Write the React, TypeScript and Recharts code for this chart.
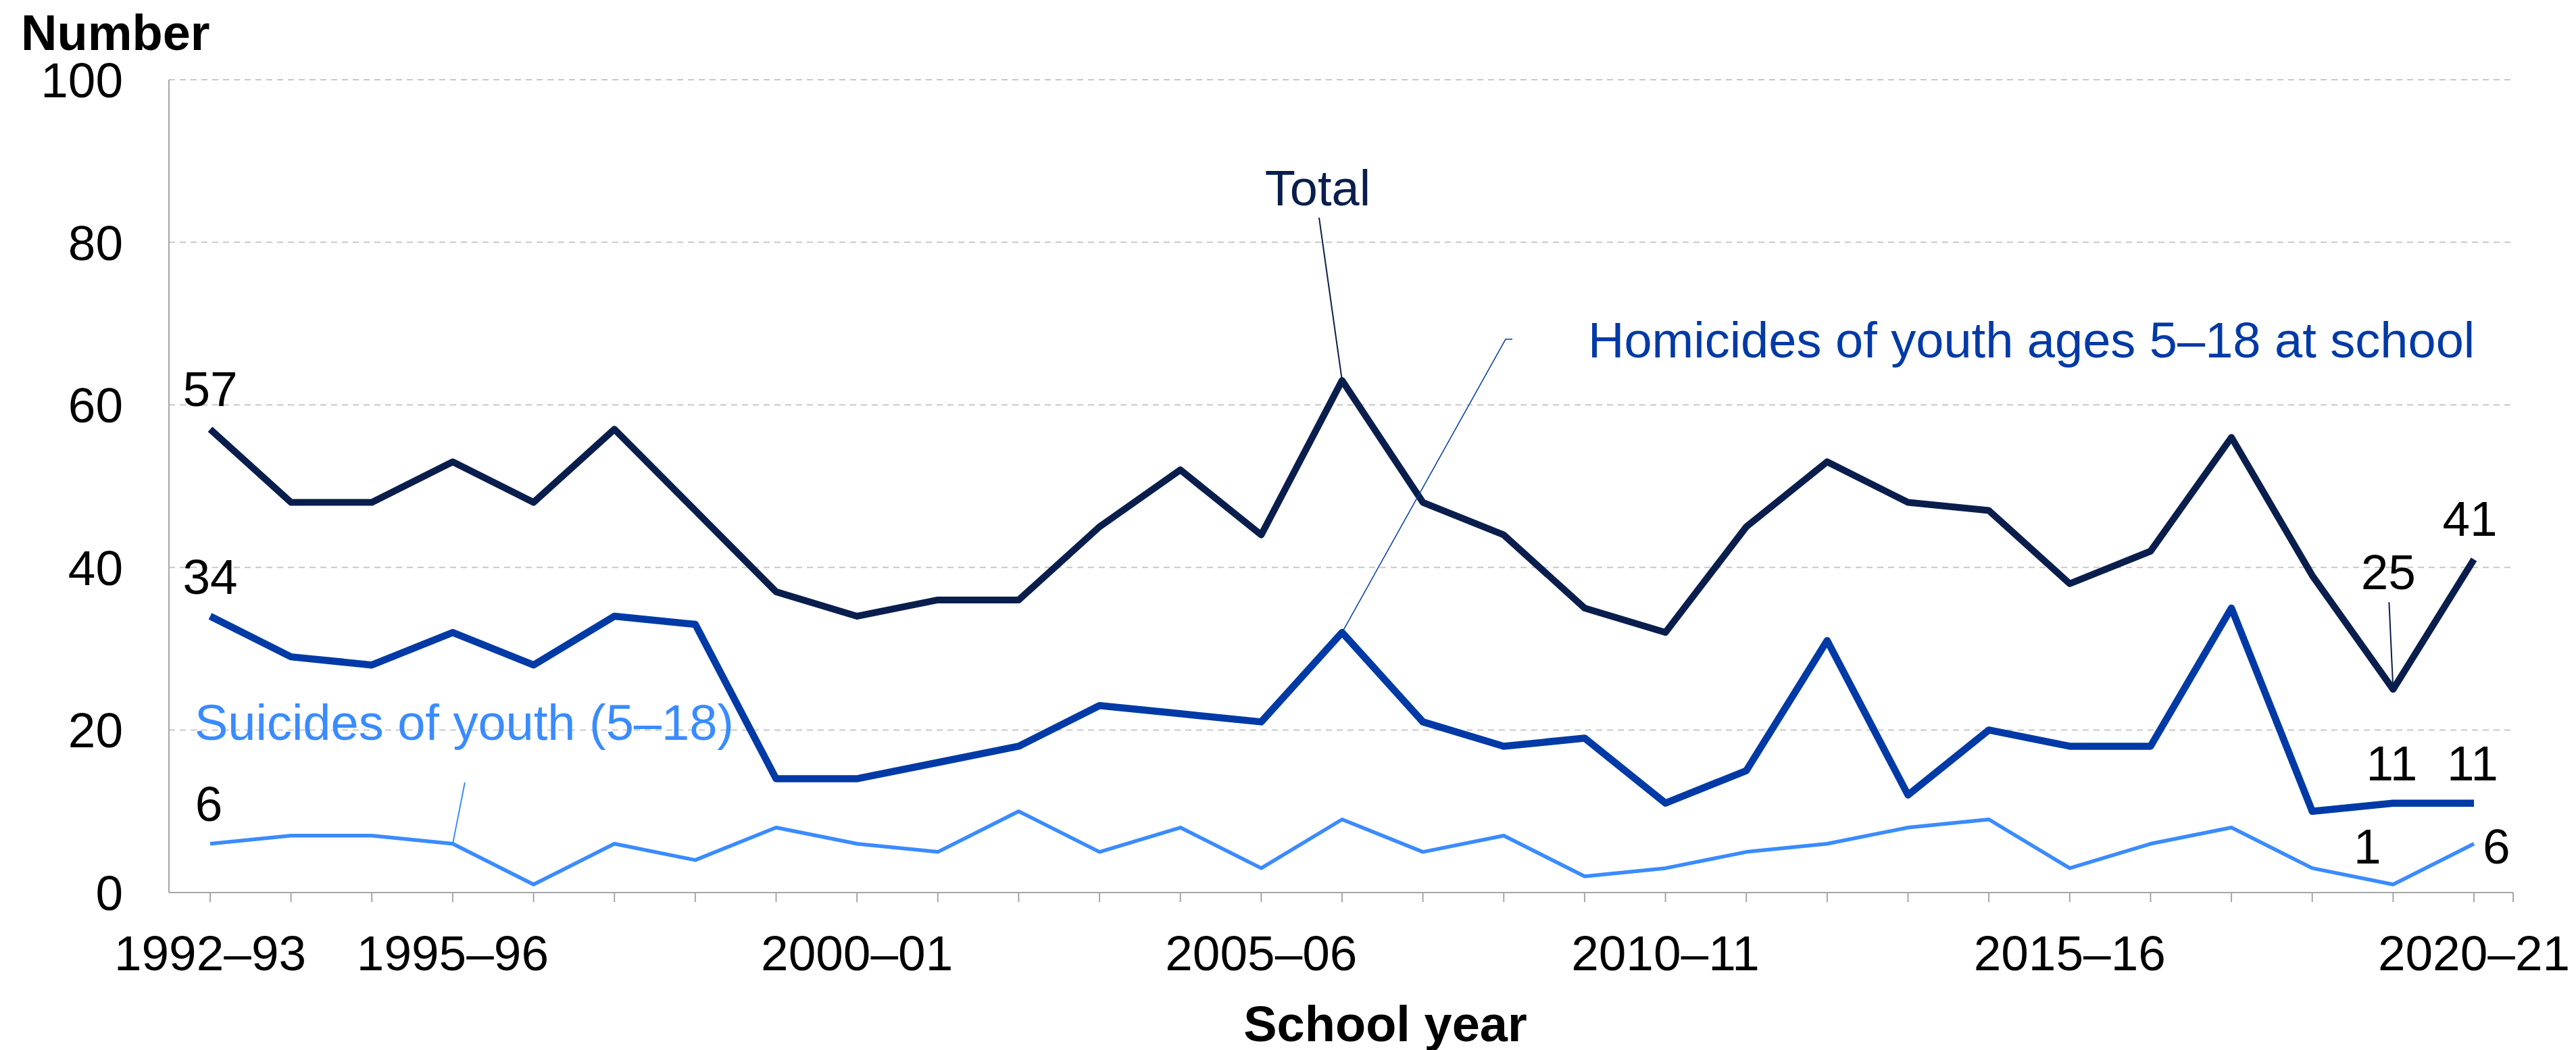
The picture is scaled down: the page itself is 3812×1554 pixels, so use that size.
import { LineChart, Line, XAxis, YAxis, CartesianGrid } from "recharts"

const YEARS = [
  "1992–93", "1993–94", "1994–95", "1995–96", "1996–97", "1997–98", "1998–99",
  "1999–00", "2000–01", "2001–02", "2002–03", "2003–04", "2004–05", "2005–06",
  "2006–07", "2007–08", "2008–09", "2009–10", "2010–11", "2011–12", "2012–13",
  "2013–14", "2014–15", "2015–16", "2016–17", "2017–18", "2018–19", "2019–20",
  "2020–21",
]

const LABELED_YEARS = ["1992–93", "1995–96", "2000–01", "2005–06", "2010–11", "2015–16", "2020–21"]

const TOTAL = [57, 48, 48, 53, 48, 57, 47, 37, 34, 36, 36, 45, 52, 44, 63, 48, 44, 35, 32, 45, 53, 48, 47, 38, 42, 56, 39, 25, 41]
const HOMICIDES = [34, 29, 28, 32, 28, 34, 33, 14, 14, 16, 18, 23, 22, 21, 32, 21, 18, 19, 11, 15, 31, 12, 20, 18, 18, 35, 10, 11, 11]
const SUICIDES = [6, 7, 7, 6, 1, 6, 4, 8, 6, 5, 10, 5, 8, 3, 9, 5, 7, 2, 3, 5, 6, 8, 9, 3, 6, 8, 3, 1, 6]

const Y_TICKS = [0, 20, 40, 60, 80, 100]

const data = YEARS.map((year, i) => ({
  year,
  total: TOTAL[i],
  homicides: HOMICIDES[i],
  suicides: SUICIDES[i],
}))

const FONT = '"Liberation Sans", Arial, Helvetica, sans-serif'
const NAVY = "#0A1E4D"
const BLUE = "#003AA6"
const LIGHT = "#3A8BFF"
const AXIS = "#A6A6A6"

const num = { fontFamily: FONT, fontSize: 73, fill: "#000" }
const last = YEARS.length - 1

// callouts and value labels hang off the line points
const totalDot = (p: any) => {
  const { cx, cy, index, value } = p
  const key = `t-${index}`
  if (index === 0) {
    return <text key={key} x={cx} y={cy - 34} textAnchor="middle" style={num}>{value}</text>
  }
  if (index === 14) {
    return (
      <g key={key}>
        <line x1={cx - 34} y1={cy - 241} x2={cx} y2={cy} stroke={NAVY} strokeWidth={2} />
        <text x={cx - 36} y={cy - 259} textAnchor="middle" style={{ ...num, fill: NAVY, fontSize: 74 }}>Total</text>
      </g>
    )
  }
  if (index === last - 1) {
    return (
      <g key={key}>
        <line x1={cx - 6} y1={cy - 129} x2={cx} y2={cy} stroke={NAVY} strokeWidth={2} />
        <text x={cx - 7} y={cy - 148} textAnchor="middle" style={num}>{value}</text>
      </g>
    )
  }
  if (index === last) {
    return <text key={key} x={cx - 6} y={cy - 35} textAnchor="middle" style={num}>{value}</text>
  }
  return <g key={key} />
}

const homicideDot = (p: any) => {
  const { cx, cy, index, value } = p
  const key = `h-${index}`
  if (index === 0) {
    return <text key={key} x={cx} y={cy - 33} textAnchor="middle" style={num}>{value}</text>
  }
  if (index === 14) {
    return (
      <g key={key}>
        <polyline
          points={`${cx},${cy} ${cx + 242},${cy - 434} ${cx + 252},${cy - 434}`}
          fill="none"
          stroke={BLUE}
          strokeWidth={1.5}
        />
        <text x={cx + 364} y={cy - 407} style={{ ...num, fill: BLUE, fontSize: 74 }}>
          Homicides of youth ages 5–18 at school
        </text>
      </g>
    )
  }
  if (index === last - 1 || index === last) {
    return <text key={key} x={cx - 2} y={cy - 34} textAnchor="middle" style={num}>{value}</text>
  }
  return <g key={key} />
}

const suicideDot = (p: any) => {
  const { cx, cy, index, value } = p
  const key = `s-${index}`
  if (index === 0) {
    return <text key={key} x={cx - 2} y={cy - 34} textAnchor="middle" style={num}>{value}</text>
  }
  if (index === 3) {
    return (
      <g key={key}>
        <line x1={cx} y1={cy} x2={cx + 18} y2={cy - 91} stroke={LIGHT} strokeWidth={2} />
        <text x={cx - 382} y={cy - 154} style={{ ...num, fill: LIGHT, fontSize: 74 }}>
          Suicides of youth (5–18)
        </text>
      </g>
    )
  }
  if (index === last - 1) {
    return <text key={key} x={cx - 38} y={cy - 31} textAnchor="middle" style={num}>{value}</text>
  }
  if (index === last) {
    return <text key={key} x={cx + 13} y={cy + 29} textAnchor="start" style={num}>{value}</text>
  }
  return <g key={key} />
}

export default function App() {
  return (
    <div style={{ position: "absolute", left: 0, top: 0, width: 3812, height: 1554, background: "#fff" }}>
      <LineChart
        width={3812}
        height={1554}
        data={data}
        margin={{ top: 118, right: 93, bottom: 83, left: 100 }}
      >
        <CartesianGrid vertical={false} stroke="#C8C8C8" strokeWidth={2} strokeDasharray="9 7" />
        <XAxis
          dataKey="year"
          interval={0}
          padding={{ left: 61, right: 58 }}
          height={150}
          tickSize={14}
          tickMargin={49}
          axisLine={{ stroke: AXIS, strokeWidth: 2 }}
          tickLine={{ stroke: AXIS, strokeWidth: 2 }}
          tick={{ fill: "#000", fontSize: 73, fontFamily: FONT }}
          tickFormatter={(v: string) => (LABELED_YEARS.includes(v) ? v : "")}
        />
        <YAxis
          domain={[0, 100]}
          ticks={Y_TICKS}
          width={150}
          tickSize={0}
          tickMargin={68}
          tickLine={false}
          axisLine={{ stroke: AXIS, strokeWidth: 2 }}
          tick={{ fill: "#000", fontSize: 73, fontFamily: FONT }}
        />
        <Line
          type="linear"
          dataKey="suicides"
          stroke={LIGHT}
          strokeWidth={5.5}
          strokeLinejoin="round"
          dot={suicideDot}
          activeDot={false}
          isAnimationActive={false}
        />
        <Line
          type="linear"
          dataKey="homicides"
          stroke={BLUE}
          strokeWidth={10.5}
          strokeLinejoin="round"
          dot={homicideDot}
          activeDot={false}
          isAnimationActive={false}
        />
        <Line
          type="linear"
          dataKey="total"
          stroke={NAVY}
          strokeWidth={10}
          strokeLinejoin="round"
          dot={totalDot}
          activeDot={false}
          isAnimationActive={false}
        />
      </LineChart>
      <svg
        width={3812}
        height={1554}
        style={{ position: "absolute", left: 0, top: 0, pointerEvents: "none" }}
      >
        <line x1={3719} y1={1321} x2={3719} y2={1335} stroke={AXIS} strokeWidth={2} />
        <text x={31} y={74} style={{ fontFamily: FONT, fontSize: 74, fontWeight: 700, fill: "#000" }}>
          Number
        </text>
        <text
          x={2050}
          y={1541}
          textAnchor="middle"
          style={{ fontFamily: FONT, fontSize: 74, fontWeight: 700, fill: "#000" }}
        >
          School year
        </text>
      </svg>
    </div>
  )
}
